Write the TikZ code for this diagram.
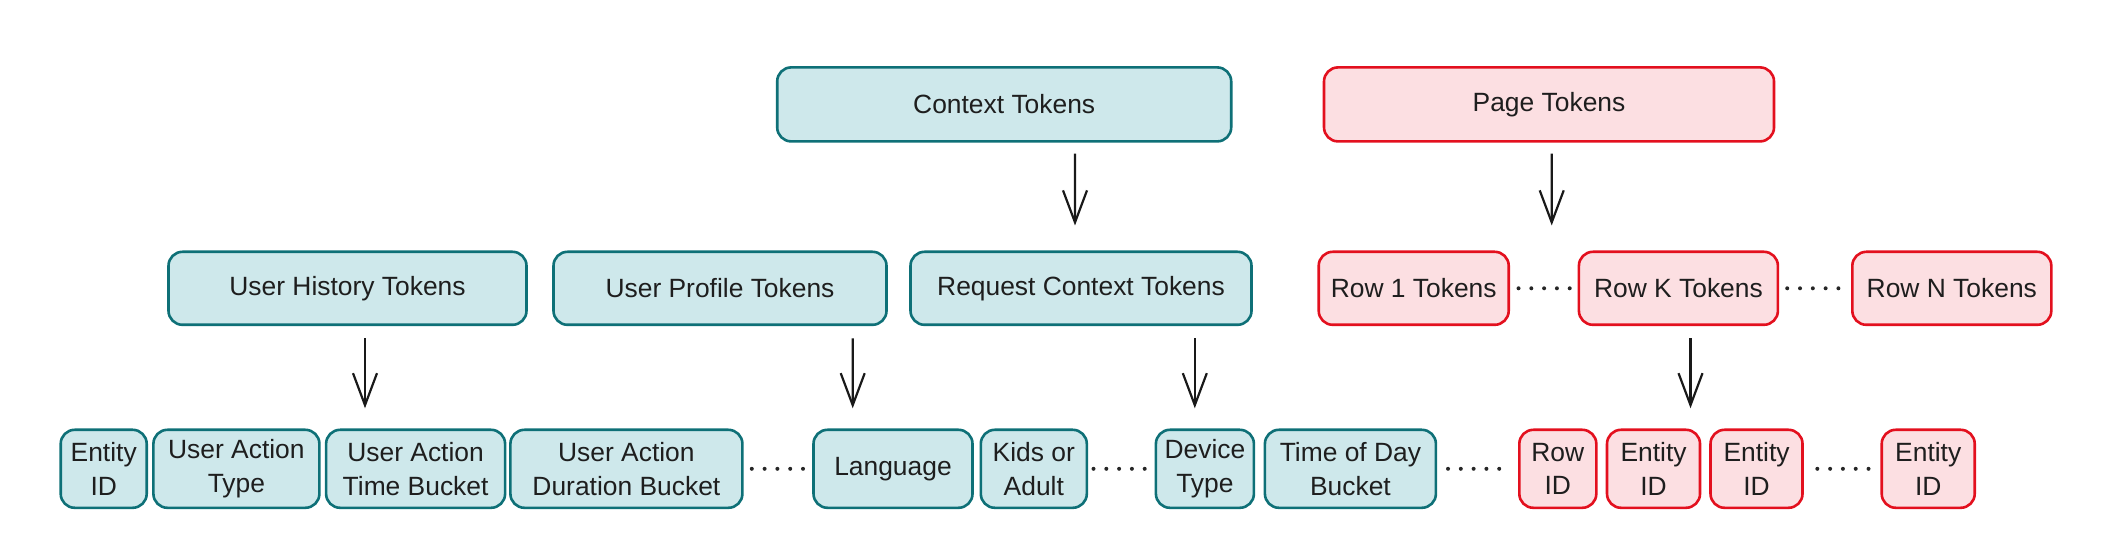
\documentclass[tikz,border=0pt]{standalone}
\usepackage{fontspec}
\setmainfont{Liberation Sans}
\usetikzlibrary{arrows.meta,calc}
\definecolor{tealfill}{RGB}{206,232,235}
\definecolor{tealline}{RGB}{14,112,119}
\definecolor{redfill}{RGB}{252,223,226}
\definecolor{redline}{RGB}{227,16,30}
\definecolor{txt}{RGB}{30,30,30}
\begin{document}
\begin{tikzpicture}[x=0.5pt,y=-0.5pt,
  box/.style={rounded corners=7pt, line width=1.3pt, inner sep=0pt, align=center,
    text=txt, font=\fontsize{13.2}{16.8}\selectfont},
  tbox/.style={box, draw=tealline, fill=tealfill},
  rbox/.style={box, draw=redline, fill=redfill},
  toprow/.style={minimum height=37pt},
  midrow/.style={minimum height=36.5pt},
  botrow/.style={minimum height=39pt},
  arr/.style={line width=1.1pt, draw=black!90, -{Straight Barb[length=16pt,width=12pt,line width=1.1pt]}},
  dotl/.style={line width=2pt, line cap=round, dash pattern=on 0pt off 6.4pt, draw=black!85}
]
\useasboundingbox (0,0) rectangle (2112,560);
% top row
\node[tbox,toprow,minimum width=227pt] (ctx) at (1004.2,104.4) {Context Tokens};
\node[rbox,toprow,minimum width=225pt] (page) at (1549,104.4) {Page Tokens};
% middle row
\node[tbox,midrow,minimum width=179pt] (uh) at (347.5,288.3) {User History Tokens};
\node[tbox,midrow,minimum width=166.5pt] (up) at (720,288.3) {User Profile Tokens};
\node[tbox,midrow,minimum width=170.5pt] (rc) at (1081,288.3) {Request Context Tokens};
\node[rbox,midrow,minimum width=95pt] (r1) at (1413.7,288.3) {Row 1 Tokens};
\node[rbox,midrow,minimum width=99.5pt] (rk) at (1678.4,288.3) {Row K Tokens};
\node[rbox,midrow,minimum width=99.5pt] (rn) at (1951.8,288.3) {Row N Tokens};
% bottom row
\node[tbox,botrow,minimum width=43pt] (e1) at (103.7,468.8) {Entity\\ID};
\node[tbox,botrow,minimum width=83pt] (uat) at (236.4,468.8) {User Action\\Type};
\node[tbox,botrow,minimum width=89.5pt] (uatb) at (415.6,468.8) {User Action\\Time Bucket};
\node[tbox,botrow,minimum width=116pt] (uadb) at (626.4,468.8) {User Action\\Duration Bucket};
\node[tbox,botrow,minimum width=79.5pt] (lang) at (893,468.8) {Language};
\node[tbox,botrow,minimum width=53pt] (kids) at (1033.8,468.8) {Kids or\\Adult};
\node[tbox,botrow,minimum width=49pt] (dev) at (1204.9,468.8) {Device\\Type};
\node[tbox,botrow,minimum width=85.5pt] (tod) at (1350.4,468.8) {Time of Day\\Bucket};
\node[rbox,botrow,minimum width=38.5pt] (rowid) at (1557.8,468.8) {Row\\ID};
\node[rbox,botrow,minimum width=46.5pt] (e2) at (1653.5,468.8) {Entity\\ID};
\node[rbox,botrow,minimum width=46pt] (e3) at (1756.5,468.8) {Entity\\ID};
\node[rbox,botrow,minimum width=46.5pt] (e4) at (1928.2,468.8) {Entity\\ID};
% arrows
\draw[arr] ($(ctx.south)+(70.8,11)$) -- ($(rc.north)+(-6,-25)$);
\draw[arr] ($(page.south)+(2.7,11)$) -- ($(rk.north)+(-126.7,-25)$);
\draw[arr] ($(uh.south)+(17.5,12.2)$) -- ($(uatb.north)+(-50.6,-20.2)$);
\draw[arr] ($(up.south)+(132.7,12.2)$) -- ($(lang.north)+(-40.3,-20.2)$);
\draw[arr] ($(rc.south)+(113.8,12.2)$) -- ($(dev.north)+(-10.1,-20.2)$);
\draw[arr] ($(rk.south)+(12.1,12.2)$) -- ($(e2.north)+(37,-20.2)$);
% dotted connectors
\draw[dotl] ($(r1.east)+(8.5,0)$) -- ($(rk.west)+(-7,0)$);
\draw[dotl] ($(rk.east)+(8,0)$) -- ($(rn.west)+(-9.4,0)$);
\draw[dotl] ($(uadb.east)+(8.1,0)$) -- ($(lang.west)+(-8.1,0)$);
\draw[dotl] ($(kids.east)+(5.4,0)$) -- ($(dev.west)+(-8.1,0)$);
\draw[dotl] ($(tod.east)+(10.8,0)$) -- ($(rowid.west)+(-16.1,0)$);
\draw[dotl] ($(e3.east)+(13.5,0)$) -- ($(e4.west)+(-9.5,0)$);
\end{tikzpicture}
\end{document}
